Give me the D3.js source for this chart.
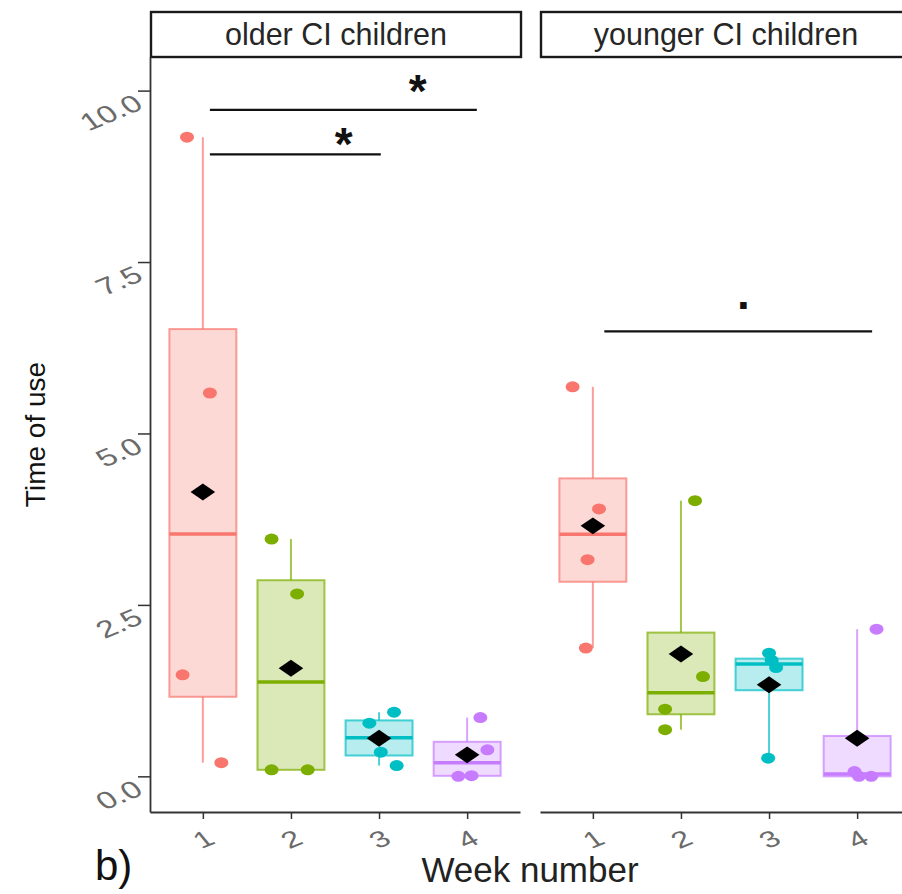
<!DOCTYPE html>
<html>
<head>
<meta charset="utf-8">
<script src="https://cdn.jsdelivr.net/npm/d3@7/dist/d3.min.js"></script>
<style>
	body { margin: 0; background: #fff; }
	text { font-family: "Liberation Sans", Arial, sans-serif; }
</style>
</head>
<body>
<svg id="chart" width="902" height="894"></svg>
<script>

var weeks = ["1", "2", "3", "4"];
var panels = ["older CI children", "younger CI children"];
var weekColors = ["#F8766D", "#7CAE00", "#00BFC4", "#C77CFF"];
var yTicks = [0, 2.5, 5, 7.5, 10];

// time of use for each child, one list per week
var olderValues = [
	[9.32, 5.59, 1.48, 0.20],
	[3.46, 2.66, 0.095, 0.095],
	[0.935, 0.776, 0.353, 0.157],
	[0.857, 0.386, 0.0, 0.01]
];
// horizontal jitter, in week units
var olderJitter = [
	[-0.18, 0.08, -0.23, 0.21],
	[-0.22, 0.07, -0.22, 0.19],
	[0.17, -0.11, 0.02, 0.20],
	[0.15, 0.23, -0.10, 0.05]
];
var youngerValues = [
	[5.68, 3.90, 3.16, 1.87],
	[4.02, 1.455, 0.98, 0.68],
	[1.796, 1.69, 1.586, 0.265],
	[2.146, 0.07, 0.0, 0.0]
];
var youngerJitter = [
	[-0.23, 0.07, -0.06, -0.08],
	[0.16, 0.25, -0.18, -0.18],
	[0.0, 0.03, 0.08, -0.01],
	[0.22, -0.03, 0.16, 0.02]
];

// significance brackets (week positions, y in data units)
var compPanel = [0, 0, 1];
var compFrom = [1.08, 1.08, 1.13];
var compTo = [4.11, 3.02, 4.17];
var compY = [9.72, 9.07, 6.49];
var compLabel = ["*", "*", "."];
var compLabelX = [3.44, 2.60, 2.71];
var compLabelY = [10.14, 9.37, 6.87];

var panelValues = [olderValues, youngerValues];
var panelJitter = [olderJitter, youngerJitter];

var svg = d3.select('#chart');

var panelLeft = [150, 540];
var panelWidth = 370;
var stripTop = 12, plotTop = 57, plotBottom = 812;

var y = d3.scaleLinear()
	.domain([-0.52, 10.49])
	.range([plotBottom, plotTop]);

function stats(vals) {
	var s = vals.slice().sort(d3.ascending);
	return {
		q1: d3.quantile(s, 0.25),
		med: d3.quantile(s, 0.5),
		q3: d3.quantile(s, 0.75),
		lo: s[0],
		hi: s[s.length - 1],
		mean: d3.mean(s)
	};
}

panels.forEach(function (name, p) {
	var x = d3.scalePoint()
		.domain(weeks)
		.range([panelLeft[p], panelLeft[p] + panelWidth])
		.padding(0.6);
	var step = x.step();
	var wx = function (w) { return x(weeks[0]) + (w - 1) * step; };

	var g = svg.append('g');

	// strip
	g.append('rect')
		.attr('x', panelLeft[p] + 1)
		.attr('y', stripTop)
		.attr('width', panelWidth)
		.attr('height', plotTop - stripTop)
		.attr('fill', '#fff')
		.attr('stroke', '#1a1a1a')
		.attr('stroke-width', 2.4);
	g.append('text')
		.attr('x', panelLeft[p] + 1 + panelWidth / 2)
		.attr('y', (stripTop + plotTop) / 2)
		.attr('dy', '0.35em')
		.attr('text-anchor', 'middle')
		.attr('font-size', 30.5)
		.attr('fill', '#262626')
		.text(name);

	// boxes
	weeks.forEach(function (wk, i) {
		var vals = panelValues[p][i];
		var st = stats(vals);
		var cx = x(wk);
		var half = step * 0.38;
		var col = weekColors[i];
		var bg = g.append('g');

		bg.append('line')
			.attr('x1', cx).attr('x2', cx)
			.attr('y1', y(st.q3)).attr('y2', y(st.hi))
			.attr('stroke', col).attr('stroke-opacity', 0.7).attr('stroke-width', 2);
		bg.append('line')
			.attr('x1', cx).attr('x2', cx)
			.attr('y1', y(st.q1)).attr('y2', y(st.lo))
			.attr('stroke', col).attr('stroke-opacity', 0.7).attr('stroke-width', 2);
		bg.append('rect')
			.attr('x', cx - half)
			.attr('y', y(st.q3))
			.attr('width', half * 2)
			.attr('height', y(st.q1) - y(st.q3))
			.attr('fill', col).attr('fill-opacity', 0.28)
			.attr('stroke', col).attr('stroke-opacity', 0.7).attr('stroke-width', 2);
		bg.append('line')
			.attr('x1', cx - half).attr('x2', cx + half)
			.attr('y1', y(st.med)).attr('y2', y(st.med))
			.attr('stroke', col).attr('stroke-width', 3.5);

		bg.selectAll('ellipse')
			.data(vals)
			.enter()
			.append('ellipse')
				.attr('cx', function (d, j) { return cx + panelJitter[p][i][j] * step; })
				.attr('cy', function (d) { return y(d); })
				.attr('rx', 7)
				.attr('ry', 5.5)
				.attr('fill', col);

		bg.append('path')
			.attr('d', d3.symbol(d3.symbolSquare, 144)())
			.attr('transform', 'translate(' + cx + ',' + y(st.mean) + ') scale(1.45,1) rotate(45)')
			.attr('fill', '#000');
	});

	// significance brackets
	compPanel.forEach(function (cp, k) {
		if (cp !== p) return;
		g.append('line')
			.attr('x1', wx(compFrom[k])).attr('x2', wx(compTo[k]))
			.attr('y1', y(compY[k])).attr('y2', y(compY[k]))
			.attr('stroke', '#111')
			.attr('stroke-width', 2.2);
		g.append('text')
			.attr('x', wx(compLabelX[k]))
			.attr('y', y(compLabelY[k]))
			.attr('dy', compLabel[k] === '*' ? '0.57em' : '0.08em')
			.attr('text-anchor', 'middle')
			.attr('font-size', 46)
			.attr('font-weight', 'bold')
			.attr('fill', '#111')
			.text(compLabel[k]);
	});

	// x axis
	var xa = g.append('g')
		.attr('transform', 'translate(0,' + plotBottom + ')')
		.call(d3.axisBottom(x).tickSize(7).tickSizeOuter(0));
	xa.select('.domain').attr('stroke', '#333').attr('stroke-width', 1.8);
	xa.selectAll('.tick line').attr('stroke', '#333').attr('stroke-width', 1.5);
	xa.selectAll('.tick text')
		.attr('y', 0)
		.attr('dy', '0.35em')
		.attr('font-size', 23)
		.attr('fill', '#6b6b6b')
		.attr('transform', 'translate(0,27) scale(1.4,1) rotate(-30)');

	if (p === 0) {
		var ya = g.append('g')
			.attr('transform', 'translate(' + panelLeft[p] + ',0)')
			.call(d3.axisLeft(y).tickValues(yTicks).tickSize(12).tickSizeOuter(0).tickFormat(d3.format('.1f')));
		ya.select('.domain').attr('stroke', '#333').attr('stroke-width', 1.8);
		ya.selectAll('.tick line').attr('stroke', '#333').attr('stroke-width', 1.5);
		ya.selectAll('.tick text')
			.attr('x', 0)
			.attr('dy', 0)
			.attr('font-size', 24)
			.attr('fill', '#6b6b6b')
			.attr('text-anchor', 'end')
			.attr('transform', 'translate(-5,17) scale(1.4,1) rotate(-30)');
	}
});

// titles
svg.append('text')
	.attr('x', (panelLeft[0] + panelLeft[1] + panelWidth) / 2)
	.attr('y', 882)
	.attr('text-anchor', 'middle')
	.attr('font-size', 35)
	.attr('fill', '#222')
	.text('Week number');

svg.append('text')
	.attr('transform', 'translate(45,' + (plotTop + plotBottom) / 2 + ') rotate(-90)')
	.attr('text-anchor', 'middle')
	.attr('font-size', 28)
	.attr('fill', '#111')
	.text('Time of use');

svg.append('text')
	.attr('x', 95)
	.attr('y', 880)
	.attr('font-size', 42)
	.attr('fill', '#111')
	.text('b)');

</script>
</body>
</html>
